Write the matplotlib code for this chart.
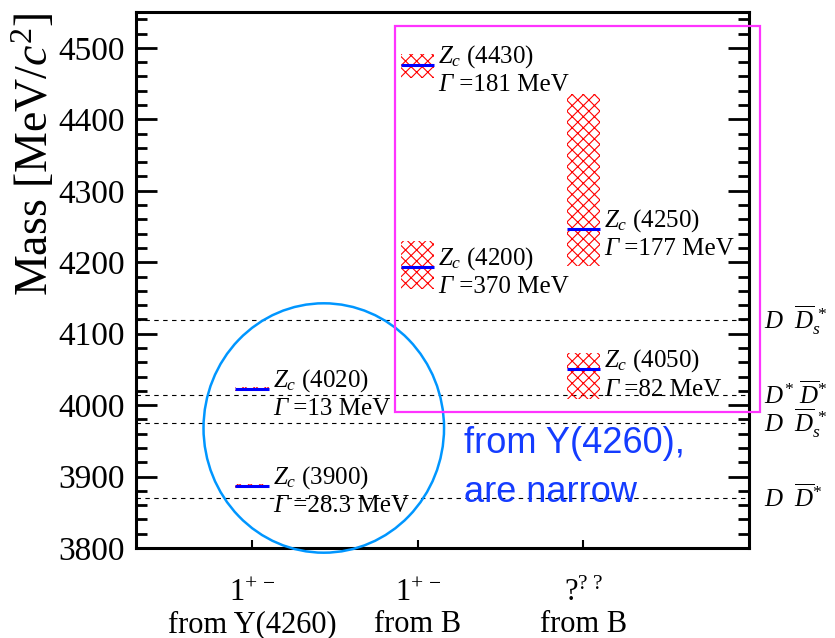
import matplotlib
matplotlib.use('Agg')
import matplotlib.pyplot as plt
from matplotlib.patches import Rectangle, Ellipse

plt.rcParams['font.family'] = ['Liberation Serif', 'DejaVu Serif']
plt.rcParams['mathtext.fontset'] = 'custom'
plt.rcParams['mathtext.rm'] = 'Liberation Serif'
plt.rcParams['mathtext.it'] = 'Liberation Serif:italic'
plt.rcParams['mathtext.bf'] = 'Liberation Serif:bold'
plt.rcParams['hatch.linewidth'] = 0.8

# production categories on the x axis
categories = ['$1^{+\\,-}$\nfrom Y(4260)', '$1^{+\\,-}$\nfrom B', '$?^{?\\ ?}$\nfrom B']

# charged charmonium-like states: name, category, mass, upper/lower error, width
names = ['4020', '3900', '4430', '4200', '4250', '4050']
cat = [1, 1, 2, 2, 3, 3]
mass = [4023, 3887, 4476, 4194, 4246, 4050]
err_up = [3, 3, 15, 36, 189, 23]
err_dn = [3, 3, 18, 32, 51, 41]
widths = ['13', '28.3', '181', '370', '177', '82']

# open-charm thresholds
thr_mass = [4119, 4014, 3975, 3870]
thr_label = [r'$D\ \ \overline{D}_s^{\,*}$', r'$D^{*}\ \overline{D}^{*}$',
             r'$D\ \ \overline{D}_s^{\,*}$', r'$D\ \ \overline{D}^{*}$']

fig = plt.figure(figsize=(8.35, 6.38), dpi=100)
ax = fig.add_axes([0.163, 0.141, 0.734, 0.840])
ax.set_xlim(0.3, 4.0)
ax.set_ylim(3800, 4550)

for m, lab in zip(thr_mass, thr_label):
    ax.axhline(m, color='black', lw=0.8, ls=(0, (4, 4)), zorder=1)
    ax.text(4.09, m, lab, fontsize=18, va='center', ha='left')

hw = 0.1
for n, c, m, up, dn, w in zip(names, cat, mass, err_up, err_dn, widths):
    ax.add_patch(Rectangle((c - hw, m - dn), 2 * hw, up + dn, fill=False,
                           hatch='xxx', edgecolor='red', lw=0, zorder=2))
    ax.plot([c - hw, c + hw], [m, m], color='blue', lw=2.2, zorder=3,
            solid_capstyle='butt')
    ax.annotate(r'$Z_c$ (' + n + ')', (c + hw, m), xytext=(3, 6),
                textcoords='offset points', fontsize=18, va='center', ha='left')
    g = ax.annotate('Γ', (c + hw, m), xytext=(3, -14.5), textcoords='offset points',
                    fontsize=18, fontstyle='italic', va='center', ha='left')
    ax.annotate(' =' + w + ' MeV', xy=(1, 0.5), xycoords=g, fontsize=18,
                va='center', ha='left')

# highlight groups
ax.add_patch(Ellipse((1.433, 3968), 1.452, 349, fill=False, ec='#0096ff',
                     lw=1.8, clip_on=False, zorder=4))
ax.add_patch(Rectangle((1.863, 3991), 2.203, 539, fill=False, ec='#ff33ff',
                       lw=1.6, clip_on=False, zorder=4))
ax.text(2.28, 3912, 'from Y(4260),\nare narrow', color='#143cff', fontsize=26,
        family=['Liberation Sans', 'DejaVu Sans'], va='center', ha='left',
        linespacing=1.55)

ax.set_xticks([1, 2, 3])
ax.set_xticklabels(categories, fontsize=22, linespacing=1.1)
ax.set_yticks(range(3800, 4501, 100))
ax.set_yticks(range(3800, 4550, 20), minor=True)
ax.tick_params(axis='y', which='both', direction='in', right=True, width=2, pad=8)
ax.tick_params(axis='y', which='major', length=15)
ax.tick_params(axis='y', which='minor', length=8)
ax.tick_params(axis='x', direction='in', length=6, width=1.5, pad=22, top=False)
ax.tick_params(axis='x', which='minor', bottom=False)
plt.setp(ax.get_yticklabels(), fontsize=24)
for s in ax.spines.values():
    s.set_linewidth(2.2)

ax.set_ylabel('Mass [MeV/$c^2$]', fontsize=33, loc='top', labelpad=0)

fig.savefig('out.png', dpi=100)
